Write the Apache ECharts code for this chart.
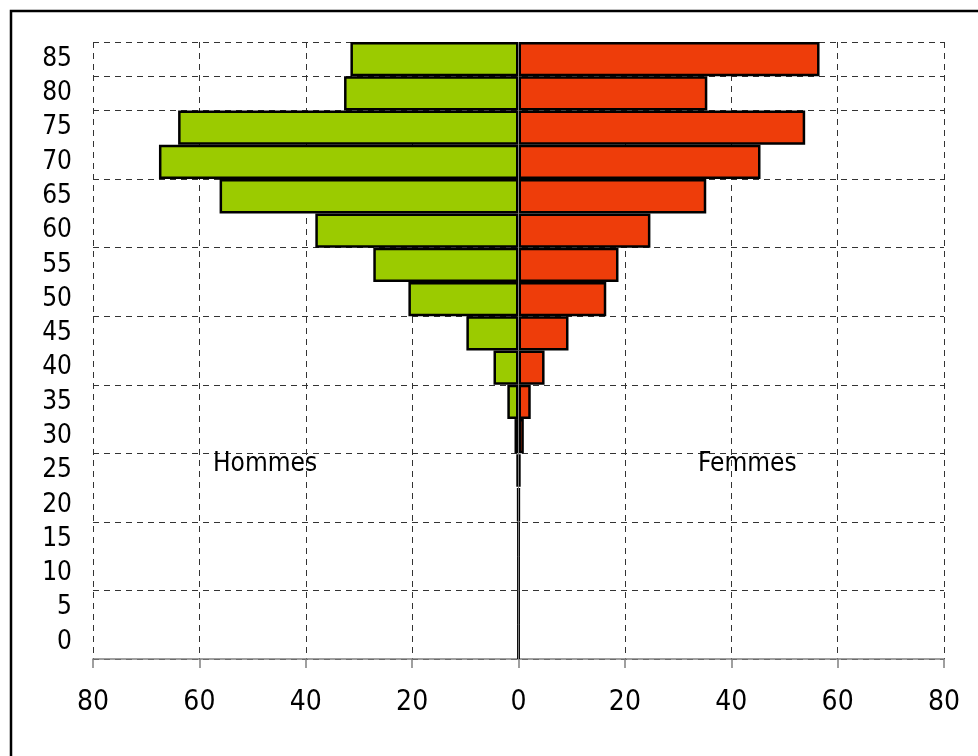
<!DOCTYPE html>
<html>
<head>
<meta charset="utf-8">
<script src="https://cdn.jsdelivr.net/npm/echarts@6/dist/echarts.min.js"></script>
<style>
  html, body { margin: 0; padding: 0; background: #fff; }
  #chart { width: 978px; height: 756px; }
</style>
</head>
<body>
<div id="chart"></div>
<script>
// age groups, bottom to top
const ages = ['0', '5', '10', '15', '20', '25', '30', '35', '40', '45', '50', '55', '60', '65', '70', '75', '80', '85']
// men drawn to the left (negative), women to the right
const hommes = [0, 0, 0, 0, 0.15, 0.35, 0.75, 2.1, 4.7, 9.8, 20.7, 27.3, 38.2, 56.2, 67.6, 64.0, 32.8, 31.6]
const femmes = [0, 0, 0, 0, 0.15, 0.35, 1.0, 2.3, 4.9, 9.4, 16.5, 18.8, 24.8, 35.3, 45.5, 53.9, 35.5, 56.6]
const xTicks = { min: -80, max: 80, step: 20 }

const font = 'DejaVu Sans Condensed, DejaVu Sans, sans-serif'
const chart = echarts.init(document.getElementById('chart'))

const option = {
  animation: false,
  backgroundColor: '#fff',
  grid: {
    left: 93,
    right: 34,
    top: 42,
    bottom: 97,
    containLabel: false
  },
  xAxis: {
    type: 'value',
    min: xTicks.min,
    max: xTicks.max,
    interval: xTicks.step,
    axisLine: {
      show: true,
      onZero: false,
      lineStyle: { color: '#808080', width: 1.5 }
    },
    axisTick: {
      show: true,
      length: 9,
      lineStyle: { color: '#808080', width: 1.5 }
    },
    axisLabel: {
      margin: 30,
      color: '#000',
      fontFamily: font,
      fontSize: 28,
      formatter: v => Math.abs(v)
    },
    splitLine: {
      show: true,
      lineStyle: { color: '#333', type: [6, 5], width: 1 }
    }
  },
  yAxis: {
    type: 'category',
    data: ages,
    boundaryGap: true,
    axisLine: { show: false },
    axisTick: { show: false },
    axisLabel: {
      interval: 0,
      margin: 21,
      color: '#000',
      fontFamily: font,
      fontSize: 26
    },
    splitLine: {
      show: true,
      interval: 1,
      lineStyle: { color: '#333', type: [6, 5], width: 1 }
    }
  },
  graphic: [
    {
      type: 'rect',
      z: 100,
      shape: { x: 11, y: 11, width: 1100, height: 1100 },
      style: { fill: 'none', stroke: '#000', lineWidth: 2.5 }
    },
    {
      type: 'text',
      z: 100,
      left: 213,
      top: 451,
      style: { text: 'Hommes', fontFamily: font, fontSize: 26, fill: '#000' }
    },
    {
      type: 'text',
      z: 100,
      left: 698,
      top: 451,
      style: { text: 'Femmes', fontFamily: font, fontSize: 26, fill: '#000' }
    }
  ],
  series: [
    {
      name: 'Hommes',
      type: 'bar',
      stack: 'pyramide',
      barCategoryGap: 0,
      data: hommes.map(v => -v),
      itemStyle: { color: '#9bcb00', borderColor: '#000', borderWidth: 2.5 },
      markLine: {
        silent: true,
        symbol: 'none',
        label: { show: false },
        lineStyle: { color: '#808080', type: 'solid', width: 1 },
        data: [{ xAxis: 0 }]
      },
      z: 3
    },
    {
      name: 'Femmes',
      type: 'bar',
      stack: 'pyramide',
      barCategoryGap: 0,
      data: femmes,
      itemStyle: { color: '#ee3d0a', borderColor: '#000', borderWidth: 2.5 },
      z: 3
    }
  ]
}

chart.setOption(option)
</script>
</body>
</html>
